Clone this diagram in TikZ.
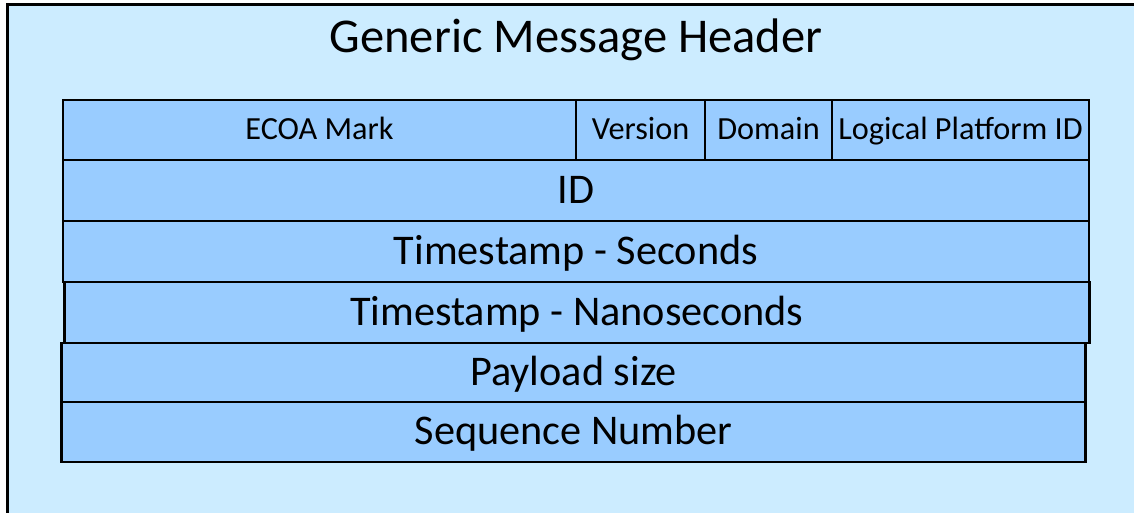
\documentclass[tikz,border=0pt]{standalone}
\usepackage{fontspec}
\setmainfont{Carlito}
\usetikzlibrary{positioning}

\newdimen\px \px=0.75pt
\definecolor{paleblue}{HTML}{CCECFF}
\definecolor{fieldblue}{HTML}{99CCFF}

\tikzset{
  field/.style={draw=black, line width=2.5\px, fill=fieldblue, inner sep=0pt, outer sep=0pt,
    minimum height=61\px, text height=19.4pt, text depth=0pt, font=\fontsize{31.7}{32}\selectfont},
  subfield/.style={field, minimum height=60\px, text height=14.8pt, font=\fontsize{24.2}{24}\selectfont}
}

\begin{document}
\begin{tikzpicture}[x=1\px, y=-1\px]
    \useasboundingbox (0,0) rectangle (1134,513);

    % Frame (its right and bottom sides fall outside the picture)
    \fill[paleblue] (7,5) rectangle (1134,513);
    \draw[line width=3\px] (1134,5) -- (7,5) -- (7,513);
    \node[font=\fontsize{36.4}{36}\selectfont, text height=22.2pt, text depth=0pt, inner sep=0pt] (title) at (576,38) {Generic Message Header};

    % First word
    \node[subfield, minimum width=513\px, anchor=north west] (mark) at (63,100) {ECOA Mark};
    \node[subfield, minimum width=129\px, right=0pt of mark] (version) {Version};
    \node[subfield, minimum width=127\px, right=0pt of version] (domain) {Domain};
    \node[subfield, minimum width=257\px, right=0pt of domain] (platform) {Logical Platform ID};

    % Remaining words
    \node[field, minimum width=1026\px, below right=0pt and 0pt of mark.south west] (id) {ID};
    \node[field, minimum width=1026\px, below right=0pt and 0pt of id.south west] (secs) {Timestamp - Seconds};
    \node[field, minimum width=1025\px, below right=0pt and 1pt of secs.south west] (nanos) {Timestamp - Nanoseconds};
    \node[field, minimum width=1024\px, minimum height=59\px, below right=0pt and -2pt of nanos.south west] (payload) {Payload size};
    \node[field, minimum width=1024\px, minimum height=60\px, below right=0pt and 0pt of payload.south west] (seqnum) {Sequence Number};
\end{tikzpicture}
\end{document}
